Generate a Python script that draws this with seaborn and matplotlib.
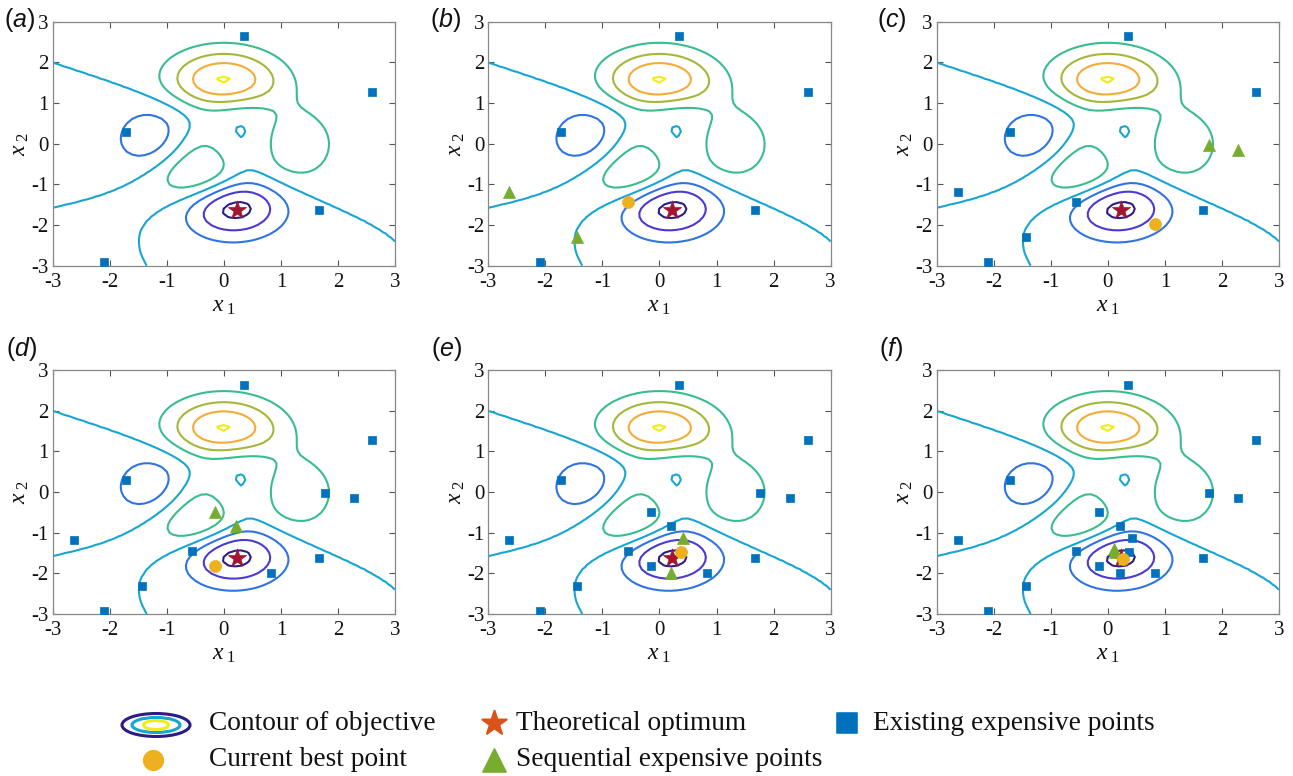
import numpy as np
import pandas as pd
import matplotlib
matplotlib.use("Agg")
import matplotlib.pyplot as plt
from matplotlib.patches import Ellipse
import seaborn as sns

# ---------------- data ----------------
panel_labels = ["a", "b", "c", "d", "e", "f"]
# initial expensive points (panel a)
init_x = [0.35, 2.60, -1.72, 1.67, -2.10]
init_y = [2.64, 1.27, 0.30, -1.62, -2.92]
# sequential expensive points per panel
seq_x = [[], [-2.63, -1.44], [1.77, 2.28], [-0.15, 0.21], [0.42, 0.21], [0.10, 0.13]]
seq_y = [[], [-1.19, -2.30], [-0.03, -0.15], [-0.50, -0.83], [-1.13, -1.98], [-1.40, -1.47]]
# current best point per panel
best_x = [None, -0.55, 0.83, -0.15, 0.37, 0.26]
best_y = [None, -1.44, -1.98, -1.83, -1.48, -1.64]
# theoretical optimum
opt_x = [0.228]
opt_y = [-1.626]
# contour levels of the objective (MATLAB peaks function)
levels = [-6, -4, -2, 0, 2, 4, 6, 8]
level_colors = ["#2c1c86", "#4a3ad2", "#2f74e2", "#17a6d1",
                "#39bd8f", "#a3b83a", "#f6ab36", "#f0ec18"]
ticks = [-3, -2, -1, 0, 1, 2, 3]

legend_labels = ["Contour of objective", "Theoretical optimum", "Existing expensive points",
                 "Current best point", "Sequential expensive points"]

# objective (peaks)
gx = np.linspace(-3, 3, 61)
GX, GY = np.meshgrid(gx, gx)
GZ = (3 * (1 - GX) ** 2 * np.exp(-GX ** 2 - (GY + 1) ** 2)
      - 10 * (GX / 5 - GX ** 3 - GY ** 5) * np.exp(-GX ** 2 - GY ** 2)
      - 1 / 3 * np.exp(-(GX + 1) ** 2 - GY ** 2))

# ---------------- style ----------------
sns.set_theme(style="white")
plt.rcParams["font.family"] = ["Liberation Serif", "DejaVu Serif"]
plt.rcParams["mathtext.fontset"] = "custom"
plt.rcParams["mathtext.rm"] = "Liberation Serif"
plt.rcParams["mathtext.it"] = "Liberation Serif:italic"
plt.rcParams["mathtext.sf"] = "Liberation Sans:italic"

W, H = 1293, 776
fig = plt.figure(figsize=(W / 100, H / 100), dpi=100)

C_SQ = "#0072BD"
C_BEST = "#EDB120"
C_SEQ = "#77AC30"
C_OPT = "#A2142F"

ax_left_px = [52.7, 488.3, 936.7]
ax_top_px = [21.7, 370.0]
ax_w_px, ax_h_px = 342.3, 244.0
letter_pos = [(4, 20), (430, 20), (877, 20), (6, 349), (431, 349), (879, 349)]

ex_x = list(init_x)
ex_y = list(init_y)
for i, lab in enumerate(panel_labels):
    r, c = divmod(i, 3)
    left = ax_left_px[c] / W
    bottom = 1 - (ax_top_px[r] + ax_h_px) / H
    ax = fig.add_axes([left, bottom, ax_w_px / W, ax_h_px / H])
    ax.contour(GX, GY, GZ, levels=levels, colors=level_colors, linewidths=1.5, zorder=1)

    sns.scatterplot(x=opt_x, y=opt_y, marker="*", s=190, color=C_OPT,
                    edgecolor=C_OPT, linewidth=0.5, ax=ax, zorder=3)
    sns.scatterplot(x=ex_x, y=ex_y, marker="s", s=32, color=C_SQ,
                    edgecolor=C_SQ, linewidth=0.5, ax=ax, zorder=4)
    if seq_x[i]:
        sns.scatterplot(x=seq_x[i], y=seq_y[i], marker="^", s=75, color=C_SEQ,
                        edgecolor=C_SEQ, linewidth=0.5, ax=ax, zorder=5)
    if best_x[i] is not None:
        sns.scatterplot(x=[best_x[i]], y=[best_y[i]], marker="o", s=75, color=C_BEST,
                        edgecolor=C_BEST, linewidth=0.5, ax=ax, zorder=6)

    ax.set_xlim(-3, 3)
    ax.set_ylim(-3, 3)
    ax.set_xticks(ticks)
    ax.set_yticks(ticks)
    ax.set_xticklabels([str(t) for t in ticks])
    ax.set_yticklabels([str(t) for t in ticks])
    ax.tick_params(direction="in", length=4, width=0.8, colors="#555555",
                   labelcolor="#111111", labelsize=15, top=True, right=True,
                   bottom=True, left=True)
    ax.tick_params(axis="x", pad=5)
    ax.tick_params(axis="y", pad=3)
    for sp in ax.spines.values():
        sp.set_color("#888888")
        sp.set_linewidth(0.9)
    ax.set_xlabel(r"$x_{\ 1}$", fontsize=17, labelpad=3, color="#111111")
    ax.set_ylabel(r"$x_{\ 2}$", fontsize=17, labelpad=0, color="#111111")
    ax.grid(False)

    lx, ly = letter_pos[i]
    fig.text(lx / W, 1 - ly / H, "($\\mathsf{" + lab + "}$)", fontsize=18,
             family="Liberation Sans", ha="left", va="center", color="#111111")

    # sequential and best points become existing expensive points afterwards
    ex_x = ex_x + list(seq_x[i]) + ([best_x[i]] if best_x[i] is not None else [])
    ex_y = ex_y + list(seq_y[i]) + ([best_y[i]] if best_y[i] is not None else [])

# ---------------- legend (manual, pixel coordinates) ----------------
lg = fig.add_axes([0, 0, 1, 1], zorder=-1)
lg.set_xlim(0, W)
lg.set_ylim(H, 0)
lg.axis("off")
y1, y2 = 723, 760
# contour icon
for (w, h, col) in [(68, 23, level_colors[0]), (48, 15, level_colors[3]), (25, 9, level_colors[7])]:
    lg.add_patch(Ellipse((156, y1 + 2), w, h, fill=False, edgecolor=col, linewidth=2.2))
sns.scatterplot(x=[153], y=[y2], marker="o", s=200, color=C_BEST, edgecolor=C_BEST, ax=lg)
sns.scatterplot(x=[494], y=[y1], marker="*", s=340, color="#D95319", edgecolor="#D95319", ax=lg)
sns.scatterplot(x=[494], y=[y2], marker="^", s=270, color=C_SEQ, edgecolor=C_SEQ, ax=lg)
sns.scatterplot(x=[847], y=[y1], marker="s", s=210, color=C_SQ, edgecolor=C_SQ, ax=lg)
text_pos = [(209, y1), (516, y1), (873, y1), (209, y2), (516, y2)]
for (tx, ty), t in zip(text_pos, legend_labels):
    lg.text(tx, ty, t, fontsize=19.7, ha="left", va="center", color="#111111")
lg.set_xlim(0, W)
lg.set_ylim(H, 0)

fig.savefig("out.png", dpi=100)
